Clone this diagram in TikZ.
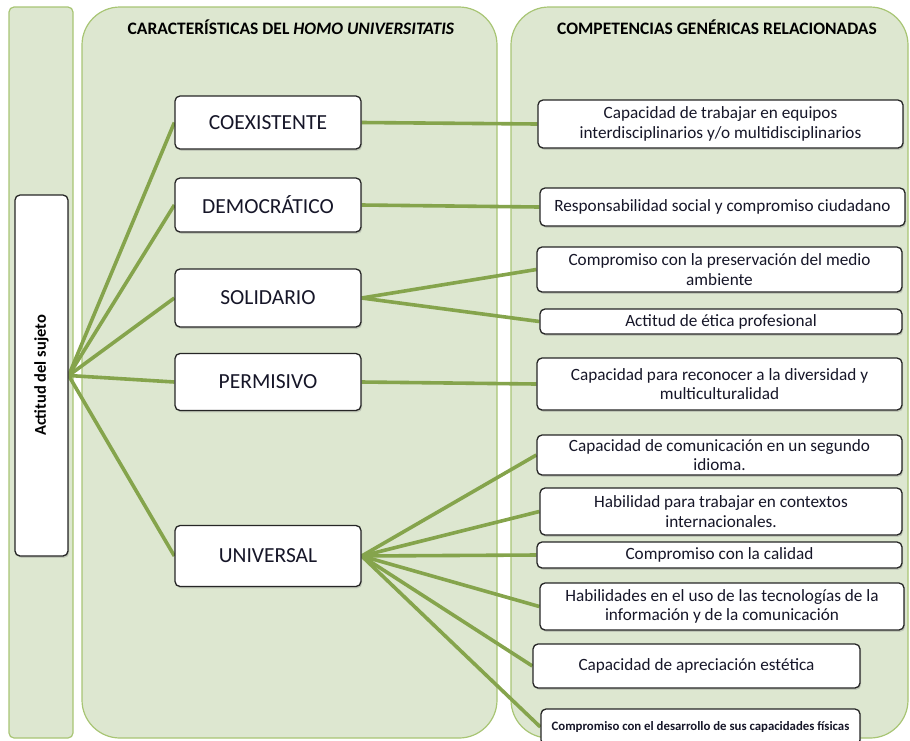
\documentclass[tikz,border=0pt]{standalone}
\usepackage{fontspec}
\setmainfont{Carlito}
\usetikzlibrary{shadows}
\definecolor{panelfill}{RGB}{221,231,208}
\definecolor{paneledge}{RGB}{168,197,116}
\definecolor{linkgreen}{RGB}{133,164,76}
\definecolor{inktext}{RGB}{22,22,40}
\pgfdeclarelayer{links}
\pgfsetlayers{links,main}

\begin{document}
\begin{tikzpicture}[x=1pt, y=-1pt,
    panel/.style={draw=paneledge, fill=panelfill, line width=1.2pt},
    box/.style={draw=black!85, fill=white, line width=1.3pt, rounded corners=5pt,
        drop shadow={shadow xshift=1.2pt, shadow yshift=-1.8pt, opacity=0.3},
        text=inktext, align=center, inner sep=0pt},
    trait/.style={box, minimum width=186pt, font=\fontsize{21.5}{25}\selectfont},
    skill/.style={box, font=\fontsize{17.2}{19.5}\selectfont},
    header/.style={font=\fontsize{17.5}{20}\selectfont\bfseries, text=black},
    link/.style={linkgreen, line width=3.6pt}
]
    \useasboundingbox (0,0) rectangle (910,740);
    \clip (0,0) rectangle (910,740);

    % Draw the three background panels
    \begin{pgfonlayer}{links}
    \draw[panel, rounded corners=5pt] (9,7) rectangle (73,738);
    \draw[panel, rounded corners=38pt] (82,7) rectangle (497,738);
    \draw[panel, rounded corners=38pt] (511,7) rectangle (908,738);
    \end{pgfonlayer}

    \node[header] (head1) at (291,27) {CARACTERÍSTICAS DEL \textit{HOMO UNIVERSITATIS}};
    \node[header] (head2) at (717,27) {COMPETENCIAS GENÉRICAS RELACIONADAS};

    % Subject box on the left
    \node[box, minimum width=53pt, minimum height=361pt] (act) at (41.5,375.5) {};
    \node[rotate=90, font=\fontsize{16.5}{19}\selectfont\bfseries, text=black] (actlabel) at (act.center) {Actitud del sujeto};

    % Traits of the homo universitatis
    \node[trait, minimum height=53pt] (coex) at (268,122.5) {COEXISTENTE};
    \node[trait, minimum height=54pt] (demo) at (268,205) {DEMOCRÁTICO};
    \node[trait, minimum height=58pt] (soli) at (268,298) {SOLIDARIO};
    \node[trait, minimum height=57pt] (perm) at (268,382) {PERMISIVO};
    \node[trait, minimum height=61pt] (univ) at (268,556) {UNIVERSAL};

    % Related generic competences
    \node[skill, minimum width=365pt, minimum height=48pt] (equipos) at (720.5,124)
        {Capacidad de trabajar en equipos\\interdisciplinarios y/o multidisciplinarios};
    \node[skill, minimum width=365pt, minimum height=38pt] (social) at (722.5,207)
        {Responsabilidad social y compromiso ciudadano};
    \node[skill, minimum width=365pt, minimum height=45pt] (ambiente) at (719.5,269.5)
        {Compromiso con la preservación del medio\\ambiente};
    \node[skill, minimum width=362pt, minimum height=25pt] (etica) at (721,321.5)
        {Actitud de ética profesional};
    \node[skill, minimum width=365pt, minimum height=52pt] (diversidad) at (719.5,384)
        {Capacidad para reconocer a la diversidad y\\multiculturalidad};
    \node[skill, minimum width=365pt, minimum height=40pt] (idioma) at (719.5,455)
        {Capacidad de comunicación en un segundo\\idioma.};
    \node[skill, minimum width=362pt, minimum height=47pt] (contextos) at (721,511.5)
        {Habilidad para trabajar en contextos\\internacionales.};
    \node[skill, minimum width=365pt, minimum height=26pt] (calidad) at (719.5,555)
        {Compromiso con la calidad};
    \node[skill, minimum width=364pt, minimum height=47pt] (tic) at (722,606.5)
        {Habilidades en el uso de las tecnologías de la\\información y de la comunicación};
    \node[skill, minimum width=327pt, minimum height=44pt] (estetica) at (696.5,666)
        {Capacidad de apreciación estética};
    \node[box, minimum width=319pt, minimum height=36pt, font=\fontsize{12.8}{15}\selectfont\bfseries] (fisicas) at (700.5,727)
        {Compromiso con el desarrollo de sus capacidades físicas};

    % Connectors, kept under the boxes
    \begin{pgfonlayer}{links}
    \foreach \t in {coex, demo, soli, perm, univ}
        \draw[link] (act.east) -- (\t.west);
    \draw[link] (coex.east) -- (equipos.west);
    \draw[link] (demo.east) -- (social.west);
    \foreach \s in {ambiente, etica}
        \draw[link] (soli.east) -- (\s.west);
    \draw[link] (perm.east) -- (diversidad.west);
    \foreach \s in {idioma, contextos, calidad, tic, estetica, fisicas}
        \draw[link] (univ.east) -- (\s.west);
    \end{pgfonlayer}
\end{tikzpicture}
\end{document}
